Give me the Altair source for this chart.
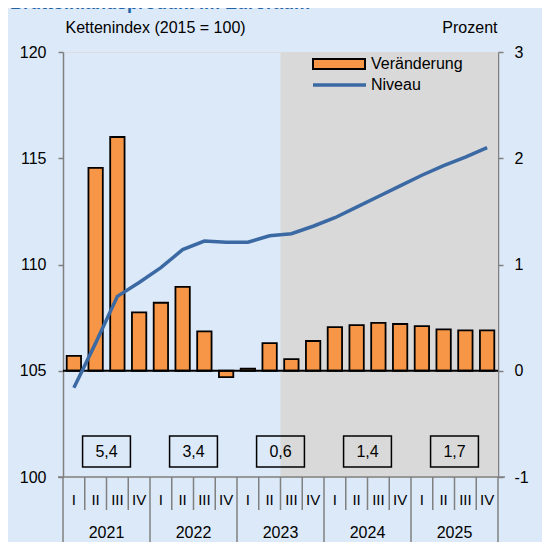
import altair as alt
import pandas as pd

# ---- data ----
quarters = ["I", "II", "III", "IV"] * 5
years = ["2021", "2022", "2023", "2024", "2025"]
change = [0.14, 1.91, 2.20, 0.55, 0.64, 0.79, 0.37, -0.06, 0.02, 0.26,
          0.11, 0.28, 0.41, 0.43, 0.45, 0.44, 0.42, 0.39, 0.38, 0.38]
level = [104.2, 106.3, 108.5, 109.15, 109.85, 110.7, 111.1, 111.05, 111.05, 111.35,
         111.45, 111.8, 112.2, 112.7, 113.2, 113.7, 114.2, 114.65, 115.05, 115.5]
annual = ["5,4", "3,4", "0,6", "1,4", "1,7"]
forecast_start = 10  # first shaded quarter (2023 III)
title_text = "Bruttoinlandsprodukt im Euroraum"

W, H = 435, 425
FONT = "Liberation Sans"
BG = "#dce9f8"
GRAY = "#808080"

df = pd.DataFrame({"i": range(20), "q": quarters, "change": change, "level": level})
df["c"] = df["i"] + 0.5
df["b0"] = df["i"] + 0.17
df["b1"] = df["i"] + 0.83

ydf = pd.DataFrame({"year": years, "annual": annual})
ydf["c"] = [4 * k + 2 for k in range(len(years))]
ydf["x0"] = ydf["c"] - 1.1
ydf["x1"] = ydf["c"] + 1.1

bounds = pd.DataFrame({"b": range(21)})
qb = bounds[bounds["b"] % 4 != 0]
yb = bounds[bounds["b"] % 4 == 0]

one = pd.DataFrame({"a": [0]})

xs = alt.Scale(domain=[0, 20], nice=False, zero=False)
X = lambda f: alt.X(f, type="quantitative", scale=xs, axis=None)

right_axis = alt.Axis(values=[-1, 0, 1, 2, 3], orient="right", tickSize=5, tickColor=GRAY,
                      tickWidth=1.5, domainColor=GRAY, domainWidth=1.5, labelFontSize=16,
                      labelColor="black", labelPadding=11, labelExpr="'' + datum.value",
                      grid=False, title="Prozent", titleAngle=0, titleX=-1, titleY=-25,
                      titleAlign="right", titleBaseline="middle", titleFontSize=16,
                      titleFontWeight="normal", titleColor="black")
left_axis = alt.Axis(values=[100, 105, 110, 115, 120], orient="left", tickSize=5, tickColor=GRAY,
                     tickWidth=1.5, domainColor=GRAY, domainWidth=1.5, labelFontSize=16,
                     labelColor="black", labelPadding=12, grid=False,
                     title="Kettenindex (2015 = 100)", titleAngle=0, titleX=2, titleY=-25,
                     titleAlign="left", titleBaseline="middle", titleFontSize=16,
                     titleFontWeight="normal", titleColor="black")
ys_r = alt.Scale(domain=[-1, 3], nice=False, zero=False)
ys_l = alt.Scale(domain=[100, 120], nice=False, zero=False)

# ---- right-scale group (percent) ----
shade = alt.Chart(one).mark_rect(fill="#d9d9d9").encode(
    x=alt.datum(forecast_start, scale=xs, axis=None), x2=alt.datum(20),
    y=alt.value(0), y2=alt.value(H))
bars = alt.Chart(df).mark_bar(fill="#f79646", stroke="black", strokeWidth=1.8).encode(
    x=X("b0"), x2="b1",
    y=alt.Y("change:Q", scale=ys_r, axis=right_axis), y2=alt.datum(0))
zero = alt.Chart(one).mark_rule(color="black", strokeWidth=1.8).encode(
    x=alt.datum(0, scale=xs, axis=None), x2=alt.datum(20), y=alt.datum(0, scale=ys_r, axis=right_axis))
right_group = alt.layer(shade, bars, zero)

# ---- left-scale group (index level) ----
line = alt.Chart(df).mark_line(color="#3b69a3", strokeWidth=3.5).encode(
    x=X("c"), y=alt.Y("level:Q", scale=ys_l, axis=left_axis))
boxes = alt.Chart(ydf).mark_rect(fill=None, stroke="black", strokeWidth=1.5).encode(
    x=X("x0"), x2="x1", y=alt.value(384), y2=alt.value(415))
box_text = alt.Chart(ydf).mark_text(fontSize=16, font=FONT, color="black", baseline="middle").encode(
    x=X("c"), y=alt.value(400), text="annual:N")
baseline = alt.Chart(one).mark_rule(color=GRAY, strokeWidth=1.5).encode(
    x=alt.value(-5), x2=alt.value(W + 7), y=alt.value(H))
qsep = alt.Chart(qb).mark_rule(color=GRAY, strokeWidth=1.5).encode(
    x=X("b"), y=alt.value(H), y2=alt.value(H + 33))
ysep = alt.Chart(yb).mark_rule(color=GRAY, strokeWidth=1.5).encode(
    x=X("b"), y=alt.value(H), y2=alt.value(H + 66))
qlab = alt.Chart(df).mark_text(fontSize=15, font=FONT, color="black", baseline="middle").encode(
    x=X("c"), y=alt.value(H + 23), text="q:N")
ylab = alt.Chart(ydf).mark_text(fontSize=16, font=FONT, color="black", baseline="middle").encode(
    x=X("c"), y=alt.value(H + 56), text="year:N")
leg_rect = alt.Chart(one).mark_rect(fill="#f79646", stroke="black", strokeWidth=2).encode(
    x=alt.value(250), x2=alt.value(302), y=alt.value(7), y2=alt.value(17))
leg_line = alt.Chart(one).mark_rule(color="#3b69a3", strokeWidth=3.5).encode(
    x=alt.value(250), x2=alt.value(303), y=alt.value(33))
leg_t1 = alt.Chart(one).mark_text(text="Veränderung", fontSize=16, font=FONT, align="left",
                                  baseline="middle", color="black").encode(
    x=alt.value(308), y=alt.value(12))
leg_t2 = alt.Chart(one).mark_text(text="Niveau", fontSize=16, font=FONT, align="left",
                                  baseline="middle", color="black").encode(
    x=alt.value(308), y=alt.value(33))
title = alt.Chart(one).mark_text(text=title_text, fontSize=18, fontWeight="bold", font=FONT,
                                 align="left", baseline="alphabetic", color="#1f62a6").encode(
    x=alt.value(-53), y=alt.value(-43))
left_group = alt.layer(line, boxes, box_text, baseline, qsep, ysep, qlab, ylab,
                       leg_rect, leg_line, leg_t1, leg_t2, title)

chart = alt.layer(right_group, left_group).resolve_scale(y="independent").properties(
    width=W, height=H,
    autosize=alt.AutoSizeParams(type="none"),
    padding={"left": 55, "top": 44, "right": 44, "bottom": 65},
    background=BG,
).configure_view(stroke=None).configure(font=FONT)

chart.save("out.html", embed_options={"renderer": "svg", "actions": False})
